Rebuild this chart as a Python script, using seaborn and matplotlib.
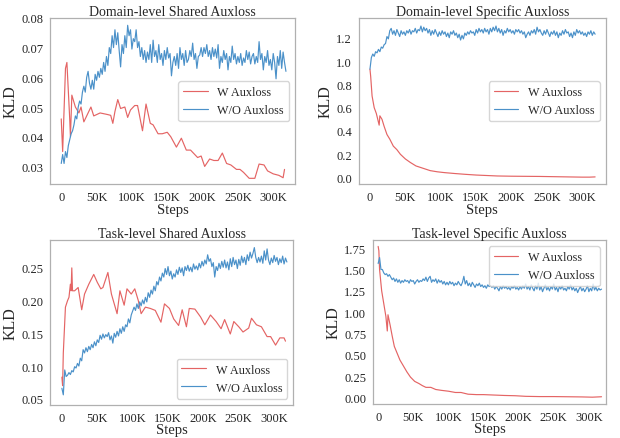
# KLD curves with / without auxloss, 2x2 panels

import numpy as np
import pandas as pd
import matplotlib
matplotlib.use("Agg")
import matplotlib.pyplot as plt
import seaborn as sns

# steps (in K) for the dense W/O Auxloss runs
steps = np.arange(0, 320, 2)

# Domain-level Shared
ds_wo = [0.031, 0.034, 0.031, 0.035, 0.033, 0.037, 0.039, 0.041, 0.042, 0.044,
         0.047, 0.046, 0.050, 0.052, 0.051, 0.055, 0.057, 0.055, 0.060, 0.062,
         0.058, 0.056, 0.059, 0.056, 0.061, 0.059, 0.062, 0.060, 0.063, 0.061,
         0.065, 0.062, 0.067, 0.064, 0.070, 0.068, 0.074, 0.070, 0.076, 0.071,
         0.075, 0.069, 0.0635, 0.071, 0.068, 0.074, 0.070, 0.0775, 0.074, 0.076,
         0.0695, 0.073, 0.072, 0.076, 0.070, 0.072, 0.067, 0.070, 0.066, 0.069,
         0.065, 0.0685, 0.066, 0.071, 0.065, 0.0725, 0.067, 0.069, 0.065, 0.071,
         0.066, 0.068, 0.064, 0.069, 0.066, 0.070, 0.0665, 0.068, 0.0605, 0.065,
         0.067, 0.064, 0.068, 0.063, 0.070, 0.066, 0.068, 0.064, 0.069, 0.065,
         0.066, 0.069, 0.067, 0.0715, 0.066, 0.068, 0.063, 0.067, 0.0675, 0.070,
         0.067, 0.070, 0.068, 0.071, 0.067, 0.069, 0.066, 0.070, 0.067, 0.0695,
         0.0665, 0.071, 0.063, 0.067, 0.065, 0.069, 0.066, 0.068, 0.0625, 0.067,
         0.065, 0.0705, 0.066, 0.068, 0.0645, 0.067, 0.065, 0.068, 0.064, 0.0665,
         0.065, 0.069, 0.066, 0.0685, 0.0645, 0.067, 0.068, 0.0645, 0.067, 0.065,
         0.072, 0.066, 0.068, 0.0625, 0.067, 0.065, 0.069, 0.064, 0.066, 0.0625,
         0.068, 0.065, 0.0595, 0.067, 0.064, 0.069, 0.063, 0.0685, 0.065, 0.062]
ds_w_steps = [0, 2, 6, 8, 12, 13, 15, 20, 25, 28, 32, 38, 42, 46, 55, 65, 70, 73,
              76, 80, 84, 90, 94, 98, 104, 108, 115, 120, 126, 130, 137, 143, 150,
              155, 163, 170, 177, 183, 193, 198, 203, 210, 216, 222, 228, 234, 240,
              248, 253, 258, 266, 274, 280, 287, 292, 300, 308, 314, 316]
ds_w = [0.046, 0.035, 0.063, 0.065, 0.046, 0.040, 0.054, 0.050, 0.048, 0.050,
        0.045, 0.048, 0.050, 0.047, 0.048, 0.0475, 0.0472, 0.0445, 0.0485, 0.0525,
        0.0495, 0.050, 0.0465, 0.049, 0.0505, 0.0505, 0.042, 0.051, 0.0445, 0.044,
        0.041, 0.041, 0.0415, 0.040, 0.0365, 0.0395, 0.0355, 0.0355, 0.033, 0.0335,
        0.030, 0.0325, 0.032, 0.032, 0.0345, 0.031, 0.0305, 0.029, 0.029, 0.028,
        0.026, 0.026, 0.0308, 0.0305, 0.0285, 0.0275, 0.027, 0.0262, 0.029]

# Domain-level Specific
dsp_wo = [0.93, 1.03, 1.06, 1.04, 1.08, 1.07, 1.10, 1.08, 1.12, 1.11,
          1.14, 1.15, 1.21, 1.19, 1.26, 1.28, 1.23, 1.26, 1.22, 1.27,
          1.24, 1.21, 1.26, 1.23, 1.25, 1.22, 1.26, 1.24, 1.27, 1.23,
          1.26, 1.25, 1.28, 1.24, 1.27, 1.26, 1.30, 1.25, 1.29, 1.26,
          1.28, 1.24, 1.27, 1.22, 1.26, 1.23, 1.27, 1.24, 1.21, 1.25,
          1.22, 1.26, 1.23, 1.25, 1.21, 1.24, 1.20, 1.25, 1.23, 1.26,
          1.22, 1.24, 1.20, 1.23, 1.18, 1.22, 1.19, 1.24, 1.22, 1.25,
          1.23, 1.26, 1.24, 1.25, 1.22, 1.27, 1.24, 1.28, 1.25, 1.27,
          1.24, 1.28, 1.25, 1.27, 1.23, 1.28, 1.25, 1.29, 1.26, 1.30,
          1.25, 1.28, 1.24, 1.27, 1.22, 1.26, 1.24, 1.28, 1.25, 1.27,
          1.24, 1.26, 1.23, 1.27, 1.25, 1.27, 1.24, 1.26, 1.23, 1.25,
          1.20, 1.23, 1.25, 1.22, 1.26, 1.24, 1.27, 1.23, 1.29, 1.25,
          1.27, 1.24, 1.22, 1.26, 1.23, 1.27, 1.24, 1.21, 1.25, 1.23,
          1.26, 1.22, 1.25, 1.20, 1.24, 1.22, 1.26, 1.23, 1.27, 1.24,
          1.25, 1.21, 1.24, 1.20, 1.25, 1.22, 1.27, 1.24, 1.26, 1.23,
          1.25, 1.22, 1.24, 1.21, 1.25, 1.23, 1.26, 1.22, 1.25, 1.23]
dsp_w_steps = [0, 1, 3, 6, 9, 11, 13, 14, 17, 20, 24, 28, 33, 38, 43, 50, 57, 65,
               75, 85, 95, 105, 120, 135, 150, 165, 180, 200, 220, 240, 260, 280,
               300, 310, 318]
dsp_w = [0.93, 0.87, 0.70, 0.60, 0.55, 0.50, 0.45, 0.53, 0.50, 0.44, 0.37, 0.33,
         0.27, 0.24, 0.20, 0.16, 0.13, 0.10, 0.08, 0.06, 0.05, 0.043, 0.035, 0.028,
         0.022, 0.018, 0.014, 0.012, 0.011, 0.010, 0.008, 0.006, 0.004, 0.004, 0.006]

# Task-level Shared
ts_wo = [0.066, 0.056, 0.094, 0.084, 0.086, 0.090, 0.087, 0.093, 0.091, 0.099,
         0.097, 0.104, 0.100, 0.112, 0.108, 0.125, 0.120, 0.128, 0.122, 0.130,
         0.125, 0.133, 0.128, 0.137, 0.131, 0.140, 0.136, 0.147, 0.141, 0.149,
         0.143, 0.148, 0.145, 0.151, 0.140, 0.146, 0.135, 0.150, 0.144, 0.153,
         0.146, 0.157, 0.150, 0.160, 0.153, 0.163, 0.160, 0.172, 0.166, 0.178,
         0.184, 0.190, 0.185, 0.195, 0.188, 0.198, 0.192, 0.201, 0.195, 0.205,
         0.198, 0.212, 0.205, 0.216, 0.210, 0.222, 0.215, 0.229, 0.224, 0.236,
         0.230, 0.242, 0.236, 0.249, 0.240, 0.252, 0.238, 0.245, 0.233, 0.241,
         0.236, 0.247, 0.240, 0.251, 0.243, 0.250, 0.238, 0.252, 0.246, 0.254,
         0.245, 0.251, 0.244, 0.256, 0.248, 0.253, 0.247, 0.257, 0.250, 0.260,
         0.253, 0.262, 0.256, 0.270, 0.260, 0.264, 0.252, 0.258, 0.236, 0.252,
         0.246, 0.257, 0.249, 0.260, 0.251, 0.262, 0.250, 0.259, 0.247, 0.264,
         0.252, 0.266, 0.255, 0.262, 0.249, 0.263, 0.254, 0.268, 0.258, 0.266,
         0.255, 0.270, 0.261, 0.274, 0.265, 0.272, 0.281, 0.266, 0.258, 0.266,
         0.259, 0.268, 0.257, 0.276, 0.262, 0.279, 0.262, 0.255, 0.265, 0.258,
         0.269, 0.260, 0.266, 0.255, 0.264, 0.258, 0.268, 0.256, 0.265, 0.259]
ts_w_steps = [0, 1, 2, 5, 8, 10, 12, 13, 14, 15, 18, 23, 28, 32, 38, 45, 50, 55,
              58, 65, 70, 78, 82, 88, 92, 98, 103, 108, 112, 118, 125, 132, 140,
              145, 152, 158, 165, 170, 176, 180, 188, 196, 202, 210, 218, 225, 230,
              238, 243, 250, 256, 264, 268, 275, 282, 290, 295, 302, 308, 314, 316]
ts_w = [0.083, 0.070, 0.120, 0.190, 0.200, 0.205, 0.225, 0.215, 0.250, 0.215,
        0.215, 0.220, 0.186, 0.210, 0.225, 0.240, 0.228, 0.218, 0.220, 0.243,
        0.210, 0.180, 0.215, 0.193, 0.218, 0.210, 0.218, 0.200, 0.180, 0.190,
        0.188, 0.185, 0.167, 0.195, 0.188, 0.172, 0.162, 0.186, 0.160, 0.188,
        0.187, 0.175, 0.163, 0.178, 0.168, 0.157, 0.171, 0.149, 0.168, 0.160,
        0.152, 0.158, 0.173, 0.163, 0.160, 0.145, 0.145, 0.132, 0.143, 0.143,
        0.138]

# Task-level Specific
tsp_wo = [1.57, 1.64, 1.50, 1.50, 1.46, 1.44, 1.45, 1.42, 1.44, 1.41,
          1.38, 1.40, 1.36, 1.39, 1.35, 1.38, 1.34, 1.37, 1.35, 1.38,
          1.36, 1.37, 1.34, 1.38, 1.36, 1.37, 1.33, 1.36, 1.38, 1.35,
          1.37, 1.36, 1.39, 1.37, 1.41, 1.36, 1.40, 1.42, 1.35, 1.38,
          1.36, 1.39, 1.34, 1.38, 1.35, 1.37, 1.33, 1.36, 1.32, 1.35,
          1.32, 1.36, 1.33, 1.35, 1.31, 1.34, 1.32, 1.36, 1.33, 1.31,
          1.35, 1.42, 1.33, 1.37, 1.31, 1.34, 1.30, 1.35, 1.32, 1.29,
          1.33, 1.31, 1.34, 1.30, 1.32, 1.29, 1.31, 1.28, 1.32, 1.30,
          1.31, 1.29, 1.31, 1.27, 1.30, 1.28, 1.25, 1.30, 1.27, 1.31,
          1.28, 1.30, 1.27, 1.29, 1.26, 1.30, 1.28, 1.31, 1.27, 1.29,
          1.26, 1.30, 1.27, 1.31, 1.28, 1.33, 1.27, 1.30, 1.26, 1.32,
          1.28, 1.25, 1.31, 1.27, 1.34, 1.26, 1.30, 1.24, 1.28, 1.32,
          1.26, 1.29, 1.25, 1.30, 1.27, 1.33, 1.26, 1.29, 1.24, 1.30,
          1.27, 1.31, 1.26, 1.28, 1.25, 1.30, 1.27, 1.32, 1.26, 1.29,
          1.25, 1.28, 1.23, 1.27, 1.30, 1.25, 1.28, 1.24, 1.27, 1.31,
          1.24, 1.28, 1.25, 1.33, 1.26, 1.29, 1.25, 1.28, 1.26, 1.27]
tsp_w_steps = [0, 1, 2, 5, 8, 11, 13, 14, 17, 20, 23, 27, 31, 36, 41, 46, 52, 58,
               63, 68, 75, 82, 90, 100, 110, 118, 128, 140, 150, 165, 180, 195,
               210, 230, 250, 270, 290, 305, 318]
tsp_w = [1.77, 1.72, 1.50, 1.25, 1.10, 0.95, 0.78, 0.97, 0.85, 0.72, 0.60, 0.52,
         0.44, 0.37, 0.30, 0.24, 0.19, 0.165, 0.14, 0.12, 0.12, 0.095, 0.085, 0.075,
         0.06, 0.06, 0.04, 0.035, 0.035, 0.03, 0.025, 0.022, 0.015, 0.012, 0.012,
         0.01, 0.008, 0.005, 0.01]

titles = ["Domain-level Shared Auxloss", "Domain-level Specific Auxloss",
          "Task-level Shared Auxloss", "Task-level Specific Auxloss"]
xticks = [0, 50, 100, 150, 200, 250, 300]
xticklabels = ["0", "50K", "100K", "150K", "200K", "250K", "300K"]
yticks = [[0.03, 0.04, 0.05, 0.06, 0.07, 0.08],
          [0.0, 0.2, 0.4, 0.6, 0.8, 1.0, 1.2],
          [0.05, 0.10, 0.15, 0.20, 0.25],
          [0.0, 0.25, 0.5, 0.75, 1.0, 1.25, 1.5, 1.75]]
yfmt = ["{:.2f}", "{:.1f}", "{:.2f}", "{:.2f}"]

sns.set_style("white", {"axes.edgecolor": "#b0b0b0"})
plt.rcParams["font.family"] = ["Liberation Serif", "DejaVu Serif"]

red = "#e46464"
blue = "#4b91c9"

fig = plt.figure(figsize=(6.2, 4.39), dpi=100)
rects = [[0.081, 0.578, 0.395, 0.379], [0.579, 0.578, 0.398, 0.379],
         [0.081, 0.076, 0.392, 0.375], [0.602, 0.078, 0.375, 0.373]]
xlims = [(-15.6, 331), (-15.5, 333), (-16.5, 327), (-7, 324)]
ylims = [(0.024, 0.080), (-0.057, 1.37), (0.041, 0.2926), (-0.072, 1.845)]
panels = [(ds_w_steps, ds_w, ds_wo), (dsp_w_steps, dsp_w, dsp_wo),
          (ts_w_steps, ts_w, ts_wo), (tsp_w_steps, tsp_w, tsp_wo)]
locs = ["center right", "center right", "lower right", "upper right"]

for i in range(4):
    ax = fig.add_axes(rects[i])
    ws, w, wo = panels[i]
    d1 = pd.DataFrame({"step": ws, "kld": w})
    d2 = pd.DataFrame({"step": steps, "kld": wo})
    sns.lineplot(data=d1, x="step", y="kld", color=red, linewidth=0.85, ax=ax,
                 label="W Auxloss")
    sns.lineplot(data=d2, x="step", y="kld", color=blue, linewidth=0.85, ax=ax,
                 label="W/O Auxloss")
    ax.set_xlim(xlims[i])
    ax.set_ylim(ylims[i])
    ax.set_title(titles[i], fontsize=10, pad=2)
    ax.set_xlabel("Steps", fontsize=10.5, labelpad=-0.5)
    ax.set_ylabel("KLD", fontsize=11.5, labelpad=2)
    ax.set_xticks(xticks)
    ax.set_xticklabels(xticklabels)
    ax.set_yticks(yticks[i])
    ax.set_yticklabels([yfmt[i].format(v) for v in yticks[i]])
    ax.tick_params(labelsize=9, pad=1.5)
    for s in ax.spines.values():
        s.set_linewidth(0.9)
    ax.legend(loc=locs[i], fontsize=8.8)

plt.savefig("out.png", dpi=100)
